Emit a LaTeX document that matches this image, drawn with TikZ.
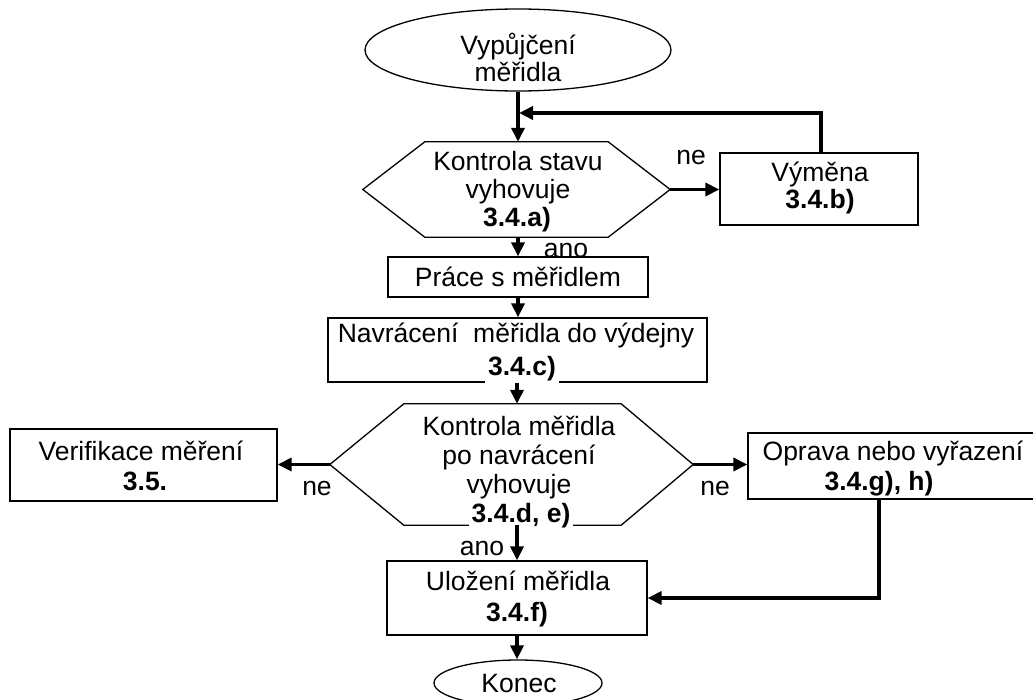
\documentclass[tikz,border=0pt]{standalone}
\usepackage{fontspec}
\setmainfont{Liberation Sans}
\usetikzlibrary{arrows.meta,shapes.geometric}
\begin{document}
\begin{tikzpicture}[x=1bp,y=-1bp,
  every node/.style={font=\fontsize{26.6}{30}\selectfont, inner sep=0pt},
  stepbox/.style={draw, line width=1.3bp, rectangle},
  oval/.style={draw, line width=1.3bp, ellipse},
  outline/.style={line width=1.3bp, line join=miter},
  flow/.style={line width=3.6bp, -{Triangle[length=14bp,width=13bp]}},
  txt/.style={anchor=base},
  num/.style={anchor=base, font=\fontsize{26.6}{30}\selectfont\bfseries},
  cover/.style={anchor=base, font=\fontsize{26.6}{30}\selectfont\bfseries, fill=white, inner xsep=3bp, inner ysep=2bp},
]
\useasboundingbox (0,0) rectangle (1033,700);

% --- shapes ---
\node[oval, minimum width=306bp, minimum height=82bp] (start) at (518,50) {};
\node[minimum width=307bp, minimum height=95bp] (hex1) at (516.5,189.5) {};
\draw[outline] (hex1.west) -- ([xshift=62bp]hex1.north west) -- ([xshift=-62bp]hex1.north east)
  -- (hex1.east) -- ([xshift=-62bp]hex1.south east) -- ([xshift=62bp]hex1.south west) -- cycle;
\node[stepbox, minimum width=198bp, minimum height=72bp] (vym) at (819,189) {};
\node[stepbox, minimum width=260bp, minimum height=40bp] (prace) at (518,277) {};
\node[stepbox, minimum width=379bp, minimum height=64bp] (nav) at (517.5,350) {};
\node[minimum width=363bp, minimum height=121bp] (hex2) at (511.5,464.5) {};
\draw[outline] (hex2.west) -- ([xshift=74bp]hex2.north west) -- ([xshift=-72bp]hex2.north east)
  -- (hex2.east) -- ([xshift=-72bp]hex2.south east) -- ([xshift=74bp]hex2.south west) -- cycle;
\node[stepbox, minimum width=267bp, minimum height=72bp] (ver) at (143.5,465) {};
\node[stepbox, minimum width=292bp, minimum height=66bp] (opr) at (894,466) {};
\node[stepbox, minimum width=260bp, minimum height=74bp] (ulo) at (517,598) {};
\node[oval, minimum width=168bp, minimum height=46bp] (konec) at (518,683) {};

% --- texts ---
\node[txt] (t1a) at (518,55) {Vypůjčení};
\node[txt] (t1b) at (518,82) {měřidla};
\node[txt] (t2a) at (518,171) {Kontrola stavu};
\node[txt] (t2b) at (518,199) {vyhovuje};
\node[num] (t2c) at (517,226) {3.4.a)};
\node[txt] (ne1) at (691,165) {ne};
\node[txt] (t3a) at (820,182) {Výměna};
\node[num] (t3b) at (820,208) {3.4.b)};
\node[txt] (ano1) at (566,257) {ano};
\node[txt] (t4) at (518,286) {Práce s měřidlem};
\node[txt] (t5a) at (516,342) {Navrácení~ měřidla do výdejny};
\node[cover] (t5b) at (522,375) {3.4.c)};
\node[txt] (t6a) at (519,435) {Kontrola měřidla};
\node[txt] (t6b) at (519,464) {po navrácení};
\node[txt] (t6c) at (519,493) {vyhovuje};
\node[cover] (t6d) at (521,522) {3.4.d, e)};
\node[txt] (t7a) at (141,460) {Verifikace měření};
\node[num] (t7b) at (145,490) {3.5.};
\node[txt] (ne2) at (317,495) {ne};
\node[txt] (ne3) at (715,495) {ne};
\node[txt] (t8a) at (893,460) {Oprava nebo vyřazení};
\node[num] (t8b) at (879,490) {3.4.g), h)};
\node[txt] (ano2) at (482,555) {ano};
\node[txt] (t9a) at (518,590) {Uložení měřidla};
\node[num] (t9b) at (517,621) {3.4.f)};
\node[txt] (t10) at (519,692) {Konec};

% --- connectors ---
\coordinate (join) at (519,113);
\draw[flow] (start.south) -- (start.south |- hex1.north);
\draw[flow] (hex1.east) -- (hex1.east -| vym.west);
\draw[flow] ([xshift=2bp]vym.north) |- (join);
\draw[flow] (hex1.south -| start.south) -- (start.south |- prace.north);
\draw[flow] (prace.south) -- (prace.south |- nav.north);
\draw[flow] ([xshift=-0.5bp]nav.south) -- ([xshift=-0.5bp]nav.south |- hex2.north);
\draw[flow] (hex2.west) -- (hex2.west -| ver.east);
\draw[flow] (hex2.east) -- (hex2.east -| opr.west);
\draw[flow] (ulo.north |- hex2.south) -- (ulo.north);
\draw[flow] ([xshift=-15bp]opr.south) |- (ulo.east);
\draw[flow] (ulo.south) -- (ulo.south |- konec.north);
\end{tikzpicture}
\end{document}
